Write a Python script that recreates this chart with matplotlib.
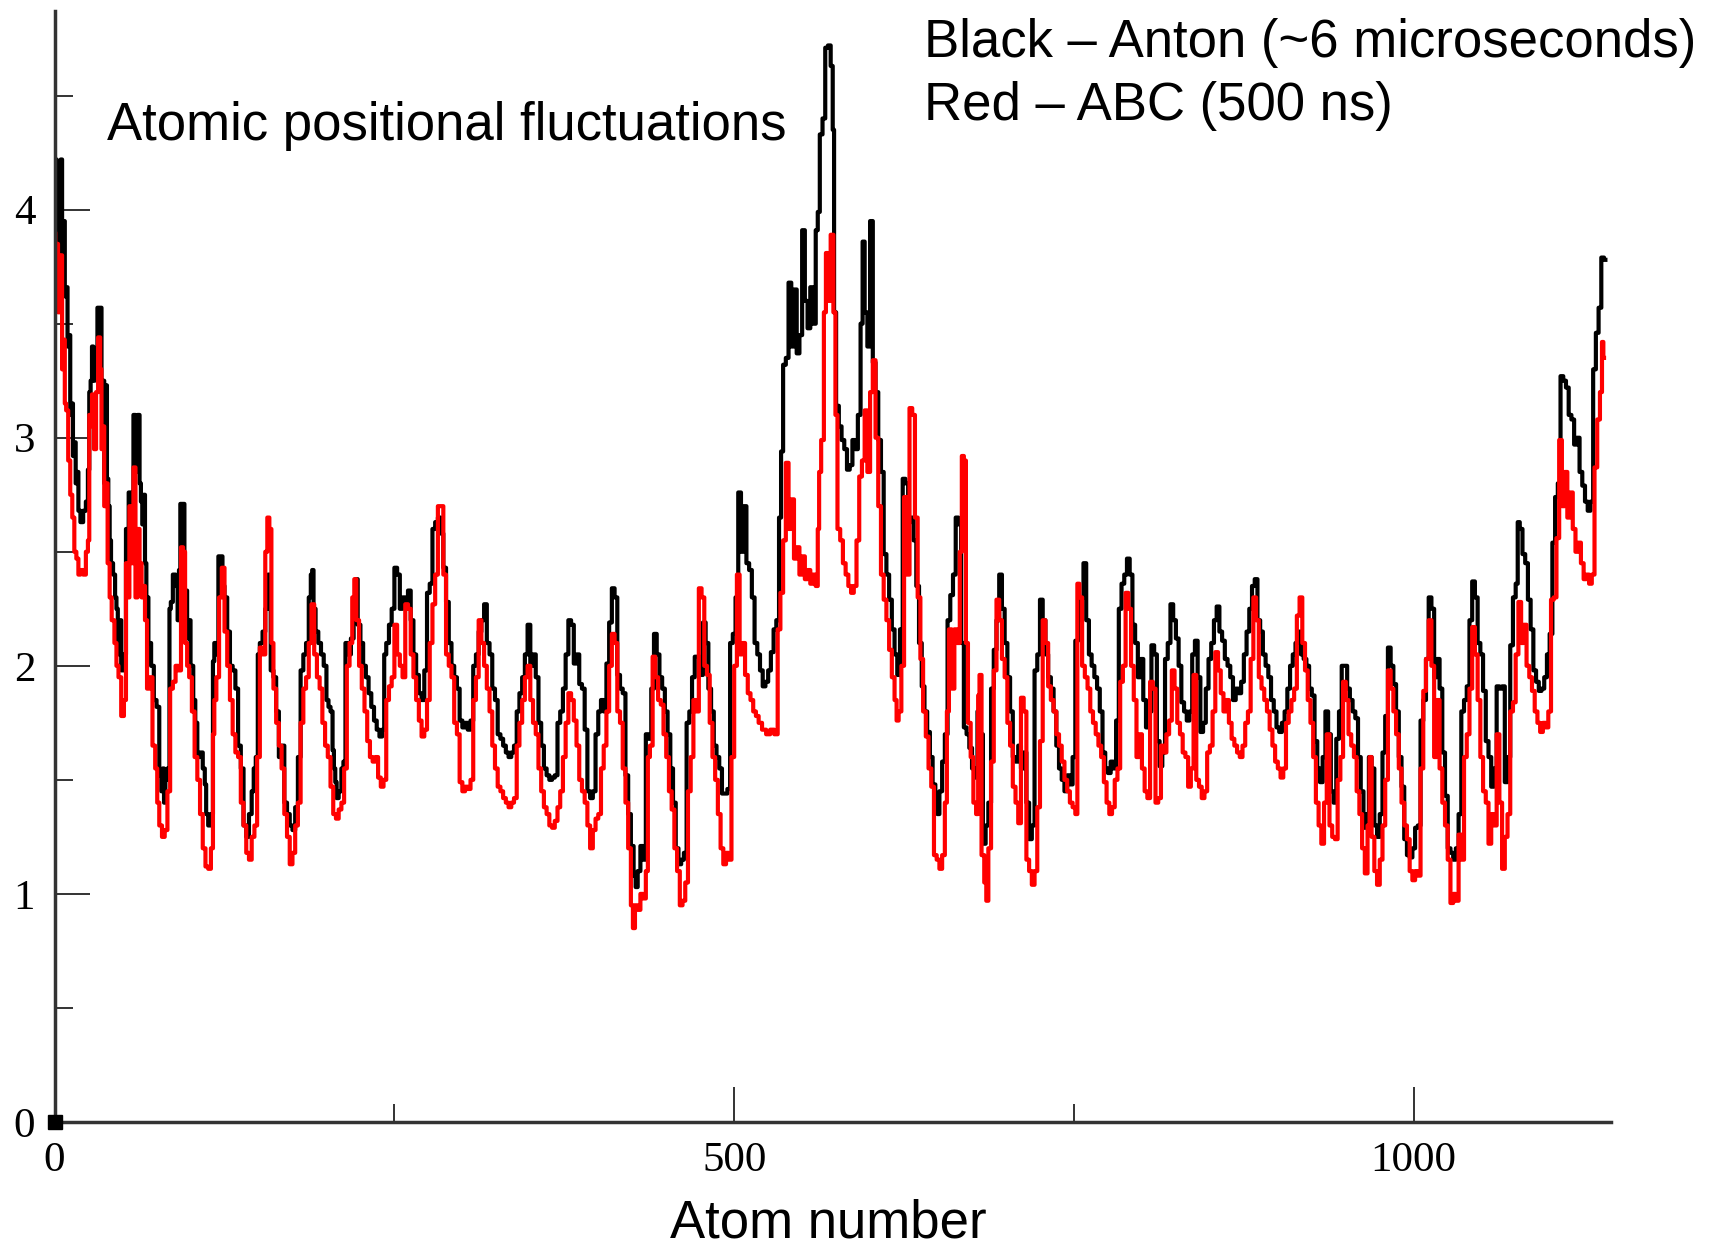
import matplotlib
matplotlib.use('Agg')
import matplotlib.pyplot as plt
from matplotlib.ticker import MultipleLocator

# Black - Anton (~6 microseconds): atom number / fluctuation
anton_atom = [
    0, 1, 2, 3, 4, 5, 6, 7, 8, 9,
    10, 11, 12, 13, 14, 15, 16, 17, 18, 20,
    22, 24, 25, 26, 27, 28, 29, 30, 31, 32,
    34, 35, 36, 37, 38, 39, 40, 41, 42, 44,
    45, 46, 47, 48, 50, 52, 53, 54, 55, 57,
    59, 60, 62, 63, 64, 65, 66, 67, 68, 70,
    72, 74, 76, 78, 79, 80, 81, 82, 84, 85,
    86, 88, 90, 91, 92, 93, 95, 96, 97, 98,
    99, 101, 103, 104, 106, 108, 110, 111, 112, 114,
    116, 117, 118, 120, 121, 123, 124, 126, 128, 130,
    132, 134, 136, 138, 140, 142, 144, 146, 147, 149,
    150, 152, 154, 156, 158, 160, 162, 164, 166, 168,
    170, 172, 174, 176, 178, 180, 182, 184, 186, 188,
    189, 190, 191, 193, 195, 197, 199, 201, 202, 204,
    205, 206, 207, 208, 210, 212, 213, 215, 217, 219,
    221, 222, 224, 226, 228, 230, 232, 234, 236, 238,
    240, 242, 243, 245, 247, 249, 251, 253, 255, 257,
    259, 261, 263, 265, 267, 269, 271, 273, 275, 277,
    279, 281, 283, 285, 287, 289, 291, 293, 295, 297,
    299, 301, 303, 305, 307, 309, 311, 313, 315, 317,
    319, 321, 323, 325, 327, 329, 331, 333, 335, 337,
    339, 341, 343, 345, 347, 349, 351, 353, 355, 357,
    359, 361, 363, 365, 367, 369, 371, 373, 375, 377,
    379, 381, 383, 385, 387, 389, 391, 393, 395, 397,
    399, 401, 403, 405, 407, 409, 411, 413, 415, 417,
    419, 421, 423, 425, 427, 428, 430, 432, 434, 436,
    438, 440, 442, 444, 446, 448, 450, 452, 454, 456,
    458, 460, 462, 464, 466, 468, 470, 472, 474, 476,
    478, 480, 482, 484, 486, 488, 490, 492, 494, 496,
    498, 500, 502, 504, 506, 508, 510, 512, 514, 516,
    518, 520, 522, 524, 526, 528, 530, 532, 534, 535,
    537, 539, 541, 543, 545, 547, 549, 551, 553, 555,
    557, 559, 561, 562, 564, 566, 568, 570, 572, 573,
    574, 576, 578, 580, 582, 584, 586, 588, 590, 592,
    594, 595, 597, 599, 601, 603, 605, 607, 609, 611,
    613, 615, 617, 619, 621, 623, 625, 627, 629, 631,
    633, 635, 637, 639, 641, 643, 645, 647, 649, 650,
    652, 654, 656, 658, 660, 662, 664, 666, 668, 670,
    672, 674, 676, 678, 680, 682, 684, 686, 688, 690,
    692, 694, 696, 698, 700, 702, 704, 706, 708, 710,
    712, 714, 716, 718, 720, 722, 724, 726, 728, 730,
    732, 734, 736, 738, 740, 742, 744, 746, 748, 750,
    752, 754, 756, 758, 760, 762, 764, 766, 768, 770,
    772, 774, 776, 778, 780, 782, 784, 786, 788, 790,
    792, 794, 796, 798, 800, 802, 804, 806, 808, 810,
    812, 814, 816, 818, 820, 822, 824, 826, 828, 830,
    832, 834, 836, 838, 840, 842, 844, 846, 848, 850,
    852, 854, 856, 858, 860, 862, 864, 866, 868, 870,
    872, 874, 876, 878, 880, 882, 884, 886, 888, 890,
    892, 894, 896, 898, 900, 902, 904, 906, 908, 910,
    912, 914, 916, 918, 920, 922, 924, 926, 928, 930,
    932, 934, 936, 938, 940, 942, 944, 946, 948, 950,
    952, 954, 956, 958, 960, 962, 964, 966, 968, 970,
    972, 974, 976, 978, 980, 982, 984, 986, 988, 990,
    992, 994, 996, 998, 1000, 1002, 1004, 1006, 1008, 1010,
    1012, 1014, 1016, 1018, 1020, 1022, 1024, 1026, 1028, 1030,
    1032, 1034, 1036, 1038, 1040, 1042, 1044, 1046, 1048, 1050,
    1052, 1054, 1056, 1058, 1060, 1062, 1064, 1066, 1068, 1070,
    1072, 1074, 1076, 1077, 1079, 1081, 1083, 1085, 1087, 1089,
    1091, 1093, 1095, 1097, 1099, 1101, 1103, 1105, 1107, 1109,
    1111, 1113, 1115, 1117, 1119, 1121, 1123, 1125, 1127, 1129,
    1131, 1133, 1135, 1137, 1139, 1141,
]
anton_rmsf = [
    3.90, 4.22, 3.85, 4.20, 3.90, 4.22, 3.80, 3.95, 3.62, 3.66,
    3.40, 3.45, 3.10, 3.15, 2.92, 2.98, 2.80, 2.85, 2.68, 2.63,
    2.68, 2.72, 2.86, 3.20, 3.25, 3.40, 3.25, 3.36, 3.30, 3.57,
    3.57, 3.20, 3.25, 2.80, 3.23, 2.82, 2.70, 2.55, 2.45, 2.40,
    2.30, 2.25, 2.05, 2.20, 1.98, 2.05, 2.60, 2.55, 2.76, 2.70,
    3.10, 2.85, 3.10, 2.80, 2.72, 2.62, 2.75, 2.45, 2.30, 2.10,
    2.00, 1.85, 1.82, 1.52, 1.45, 1.55, 1.40, 1.50, 1.55, 2.25,
    2.28, 2.40, 2.35, 2.20, 2.42, 2.71, 2.71, 2.30, 2.33, 2.12,
    2.20, 2.00, 1.85, 1.75, 1.60, 1.62, 1.55, 1.48, 1.35, 1.30,
    1.35, 2.02, 2.10, 2.05, 2.48, 2.48, 2.35, 2.30, 2.15, 2.00,
    1.98, 1.90, 1.65, 1.55, 1.30, 1.25, 1.35, 1.45, 1.55, 1.60,
    2.05, 2.10, 2.15, 2.25, 2.40, 1.98, 1.95, 1.80, 1.60, 1.65,
    1.40, 1.35, 1.30, 1.28, 1.38, 1.60, 1.98, 2.05, 2.10, 2.30,
    2.40, 2.42, 2.25, 2.15, 2.10, 2.05, 2.00, 1.85, 1.82, 1.80,
    1.63, 1.55, 1.49, 1.42, 1.45, 1.55, 1.58, 2.10, 2.05, 2.12,
    2.30, 2.38, 2.18, 2.10, 2.00, 1.95, 1.88, 1.82, 1.76, 1.72,
    1.69, 1.72, 2.05, 2.10, 2.18, 2.25, 2.43, 2.40, 2.25, 2.30,
    2.28, 2.33, 2.20, 2.05, 1.96, 1.88, 1.85, 1.98, 2.32, 2.36,
    2.60, 2.63, 2.65, 2.58, 2.43, 2.28, 2.10, 2.00, 1.95, 1.90,
    1.76, 1.73, 1.75, 1.72, 1.76, 2.00, 2.05, 2.15, 2.20, 2.27,
    2.10, 2.05, 1.90, 1.85, 1.70, 1.68, 1.65, 1.62, 1.60, 1.62,
    1.65, 1.80, 1.88, 1.95, 2.05, 2.18, 2.00, 2.05, 1.95, 1.75,
    1.65, 1.55, 1.52, 1.50, 1.51, 1.52, 1.75, 1.80, 1.90, 2.05,
    2.20, 2.18, 2.01, 2.05, 1.92, 1.90, 1.72, 1.45, 1.42, 1.45,
    1.70, 1.80, 1.85, 1.80, 2.01, 2.19, 2.34, 2.30, 1.96, 1.90,
    1.88, 1.52, 1.35, 1.21, 1.08, 1.03, 1.10, 1.21, 1.15, 1.70,
    1.68, 1.90, 2.14, 2.05, 1.95, 1.90, 1.80, 1.70, 1.55, 1.40,
    1.20, 1.13, 1.15, 1.18, 1.75, 1.80, 1.95, 2.04, 2.04, 1.96,
    2.19, 2.10, 1.90, 1.80, 1.65, 1.60, 1.55, 1.44, 1.44, 1.46,
    2.10, 2.14, 2.30, 2.76, 2.50, 2.70, 2.45, 2.42, 2.30, 2.10,
    2.05, 1.98, 1.91, 1.93, 1.98, 2.06, 2.16, 2.20, 2.65, 2.94,
    3.32, 3.35, 3.68, 3.40, 3.65, 3.37, 3.45, 3.91, 3.60, 3.48,
    3.66, 3.50, 3.91, 3.99, 4.33, 4.40, 4.71, 4.72, 4.63, 4.35,
    3.55, 3.14, 3.05, 2.99, 2.95, 2.86, 2.88, 2.99, 2.95, 3.10,
    3.50, 3.86, 3.55, 3.40, 3.95, 3.33, 3.20, 2.99, 2.85, 2.49,
    2.40, 2.29, 2.16, 2.05, 1.96, 2.16, 2.82, 2.80, 2.63, 2.65,
    2.55, 2.35, 2.10, 1.91, 1.80, 1.71, 1.60, 1.48, 1.40, 1.35,
    1.45, 1.58, 1.70, 2.20, 2.31, 2.40, 2.65, 2.62, 2.10, 1.73,
    1.70, 1.64, 1.55, 1.51, 1.80, 1.70, 1.22, 1.30, 1.40, 1.90,
    2.07, 2.20, 2.40, 2.25, 2.10, 1.95, 1.80, 1.60, 1.58, 1.65,
    1.55, 1.62, 1.40, 1.24, 1.30, 1.98, 2.05, 2.29, 2.20, 2.05,
    1.95, 1.90, 1.80, 1.65, 1.55, 1.50, 1.45, 1.52, 1.48, 1.60,
    2.11, 2.20, 2.30, 2.45, 2.20, 2.05, 2.00, 1.95, 1.90, 1.80,
    1.62, 1.55, 1.53, 1.58, 1.55, 1.76, 2.25, 2.36, 2.40, 2.47,
    2.40, 2.18, 2.10, 1.95, 2.03, 1.85, 1.73, 1.80, 2.09, 2.05,
    1.67, 1.56, 1.62, 2.03, 2.10, 2.27, 2.20, 2.12, 2.00, 1.84,
    1.80, 1.76, 1.80, 2.05, 2.11, 1.95, 1.71, 1.75, 1.90, 2.03,
    2.10, 2.20, 2.26, 2.15, 2.11, 2.03, 2.00, 1.95, 1.85, 1.90,
    1.88, 1.93, 2.05, 2.15, 2.25, 2.35, 2.38, 2.20, 2.15, 2.05,
    2.00, 1.95, 1.85, 1.80, 1.73, 1.71, 1.75, 1.80, 1.90, 2.00,
    2.05, 2.10, 2.15, 2.05, 2.03, 2.00, 1.90, 1.87, 1.67, 1.55,
    1.49, 1.60, 1.80, 1.70, 1.45, 1.40, 1.68, 1.80, 2.00, 2.00,
    1.90, 1.85, 1.80, 1.77, 1.60, 1.45, 1.29, 1.35, 1.60, 1.55,
    1.30, 1.25, 1.35, 1.62, 1.78, 2.08, 2.00, 1.92, 1.80, 1.60,
    1.47, 1.24, 1.17, 1.16, 1.20, 1.29, 1.30, 1.76, 1.85, 2.03,
    2.30, 2.25, 1.95, 2.03, 1.90, 1.62, 1.43, 1.20, 1.18, 1.15,
    1.20, 1.35, 1.80, 1.85, 1.91, 2.20, 2.37, 2.30, 2.10, 2.05,
    1.89, 1.67, 1.60, 1.47, 1.55, 1.91, 1.90, 1.91, 1.49, 1.60,
    2.09, 2.30, 2.36, 2.63, 2.60, 2.49, 2.45, 2.29, 2.16, 1.98,
    1.93, 1.89, 1.90, 1.95, 2.05, 2.14, 2.54, 2.74, 2.80, 3.27,
    3.25, 3.22, 3.10, 3.08, 2.97, 3.00, 2.85, 2.79, 2.72, 2.68,
    2.72, 3.30, 3.46, 3.57, 3.79, 3.78,
]

# Red - ABC (500 ns): atom number / fluctuation
abc_atom = [
    0, 1, 2, 3, 5, 6, 7, 8, 9, 11,
    12, 14, 15, 17, 18, 20, 22, 24, 25, 26,
    27, 28, 30, 31, 33, 34, 35, 36, 37, 38,
    40, 41, 43, 45, 46, 48, 50, 52, 53, 54,
    56, 57, 59, 60, 62, 63, 65, 66, 67, 69,
    71, 73, 75, 76, 78, 80, 82, 84, 86, 88,
    90, 92, 94, 95, 97, 98, 100, 102, 104, 106,
    108, 110, 112, 114, 116, 117, 118, 120, 122, 124,
    126, 128, 130, 132, 134, 136, 138, 140, 142, 144,
    146, 148, 150, 152, 154, 156, 157, 159, 160, 162,
    164, 166, 168, 170, 172, 174, 176, 178, 180, 182,
    184, 186, 188, 190, 192, 194, 196, 198, 200, 202,
    204, 206, 208, 210, 212, 214, 216, 218, 220, 221,
    223, 225, 227, 229, 231, 233, 235, 237, 239, 241,
    243, 245, 247, 249, 251, 253, 255, 257, 259, 261,
    263, 265, 267, 269, 271, 273, 275, 277, 279, 281,
    283, 285, 287, 289, 291, 293, 295, 297, 299, 301,
    303, 305, 307, 309, 311, 313, 315, 317, 319, 321,
    323, 325, 327, 329, 331, 333, 335, 337, 339, 341,
    343, 345, 347, 349, 351, 353, 355, 357, 359, 361,
    363, 365, 367, 369, 371, 373, 375, 377, 379, 381,
    383, 385, 387, 389, 391, 393, 395, 397, 399, 401,
    403, 405, 407, 409, 411, 413, 415, 417, 419, 421,
    423, 425, 426, 428, 430, 432, 434, 436, 437, 439,
    441, 443, 445, 447, 449, 451, 453, 455, 457, 459,
    461, 463, 465, 467, 469, 471, 473, 475, 477, 479,
    481, 483, 485, 487, 489, 491, 493, 495, 497, 499,
    501, 503, 505, 507, 509, 511, 513, 515, 517, 519,
    522, 525, 528, 531, 533, 535, 537, 539, 541, 543,
    545, 547, 549, 551, 553, 555, 557, 559, 561, 562,
    563, 565, 567, 568, 570, 572, 574, 575, 577, 579,
    581, 583, 585, 587, 589, 591, 593, 595, 597, 599,
    601, 603, 605, 607, 609, 611, 613, 615, 617, 619,
    620, 622, 624, 626, 628, 630, 632, 634, 636, 638,
    640, 642, 644, 646, 648, 650, 652, 654, 656, 657,
    659, 661, 663, 665, 667, 668, 670, 671, 673, 675,
    677, 679, 680, 681, 683, 685, 686, 688, 690, 692,
    694, 696, 698, 700, 702, 704, 706, 708, 710, 712,
    714, 716, 718, 720, 722, 724, 726, 728, 730, 732,
    734, 736, 738, 740, 742, 744, 746, 748, 750, 752,
    753, 755, 757, 759, 761, 763, 765, 767, 769, 771,
    773, 775, 777, 779, 781, 783, 785, 787, 789, 791,
    793, 795, 797, 799, 801, 803, 805, 807, 809, 811,
    813, 815, 817, 819, 821, 823, 825, 827, 829, 831,
    833, 835, 837, 839, 841, 843, 845, 847, 849, 851,
    853, 855, 857, 859, 861, 863, 865, 867, 869, 871,
    873, 875, 877, 879, 881, 883, 885, 887, 889, 891,
    893, 895, 897, 899, 901, 903, 905, 907, 909, 911,
    913, 915, 917, 919, 921, 923, 925, 927, 929, 931,
    933, 935, 937, 939, 941, 943, 945, 947, 949, 951,
    953, 955, 957, 959, 961, 963, 965, 967, 968, 970,
    972, 974, 976, 978, 980, 982, 984, 986, 988, 990,
    992, 994, 996, 998, 1000, 1002, 1004, 1006, 1008, 1010,
    1012, 1014, 1016, 1018, 1020, 1022, 1024, 1026, 1028, 1030,
    1032, 1034, 1036, 1038, 1040, 1042, 1044, 1046, 1048, 1050,
    1052, 1054, 1056, 1058, 1060, 1062, 1064, 1066, 1068, 1070,
    1072, 1074, 1076, 1078, 1080, 1082, 1084, 1086, 1088, 1090,
    1092, 1094, 1096, 1098, 1100, 1102, 1104, 1106, 1108, 1110,
    1112, 1114, 1116, 1118, 1120, 1122, 1124, 1126, 1128, 1130,
    1132, 1134, 1136, 1138, 1139, 1140,
]
abc_rmsf = [
    3.90, 3.60, 3.85, 3.55, 3.80, 3.30, 3.43, 3.15, 3.12, 2.90,
    2.75, 2.65, 2.50, 2.47, 2.40, 2.42, 2.40, 2.50, 2.55, 3.10,
    3.05, 3.19, 2.95, 3.20, 3.44, 3.30, 2.95, 3.05, 2.70, 2.80,
    2.45, 2.30, 2.20, 2.10, 2.00, 1.95, 1.78, 1.85, 2.45, 2.30,
    2.70, 2.45, 2.87, 2.30, 2.60, 2.45, 2.30, 2.35, 2.20, 1.90,
    1.95, 1.65, 1.55, 1.40, 1.30, 1.25, 1.28, 1.45, 1.90, 1.93,
    2.00, 1.98, 2.52, 2.50, 2.10, 2.00, 1.95, 1.80, 1.60, 1.50,
    1.35, 1.20, 1.12, 1.11, 1.20, 1.70, 1.85, 1.95, 2.30, 2.43,
    2.15, 2.00, 1.85, 1.70, 1.62, 1.60, 1.40, 1.30, 1.18, 1.15,
    1.25, 1.30, 1.60, 2.08, 2.05, 2.50, 2.65, 2.60, 2.10, 1.90,
    1.75, 1.65, 1.55, 1.35, 1.25, 1.13, 1.18, 1.30, 1.40, 1.75,
    1.90, 1.95, 2.10, 2.27, 2.05, 1.95, 1.90, 1.75, 1.65, 1.60,
    1.47, 1.35, 1.33, 1.37, 1.40, 1.55, 2.00, 2.10, 2.30, 2.38,
    2.20, 2.00, 1.90, 1.80, 1.67, 1.60, 1.58, 1.60, 1.51, 1.47,
    1.50, 1.85, 1.91, 1.95, 2.18, 2.05, 2.00, 1.95, 2.27, 2.25,
    2.05, 1.95, 1.85, 1.76, 1.69, 1.72, 1.85, 2.10, 2.27, 2.40,
    2.70, 2.70, 2.40, 2.05, 2.00, 1.95, 1.75, 1.70, 1.49, 1.45,
    1.47, 1.46, 1.50, 1.85, 1.95, 2.20, 2.10, 2.00, 1.90, 1.80,
    1.65, 1.55, 1.47, 1.45, 1.42, 1.40, 1.38, 1.40, 1.42, 1.65,
    1.75, 1.85, 1.95, 2.00, 1.85, 1.75, 1.70, 1.55, 1.45, 1.38,
    1.35, 1.30, 1.29, 1.32, 1.38, 1.45, 1.60, 1.75, 1.88, 1.85,
    1.76, 1.65, 1.50, 1.45, 1.40, 1.30, 1.20, 1.28, 1.33, 1.35,
    1.55, 1.65, 1.80, 2.00, 2.14, 2.10, 1.80, 1.75, 1.55, 1.40,
    1.20, 0.95, 0.85, 0.95, 0.93, 1.00, 0.98, 1.10, 1.60, 1.65,
    2.04, 1.95, 1.85, 1.83, 1.70, 1.60, 1.45, 1.37, 1.20, 1.10,
    0.95, 0.97, 1.05, 1.45, 1.60, 1.85, 1.80, 2.34, 2.30, 2.00,
    1.96, 1.75, 1.60, 1.50, 1.35, 1.20, 1.13, 1.18, 1.15, 1.60,
    2.00, 2.40, 2.05, 2.10, 1.96, 1.88, 1.85, 1.80, 1.78, 1.75,
    1.72, 1.70, 1.72, 1.70, 2.16, 2.32, 2.55, 2.89, 2.60, 2.73,
    2.47, 2.52, 2.40, 2.48, 2.38, 2.42, 2.36, 2.40, 2.35, 2.60,
    2.85, 2.99, 3.55, 3.81, 3.60, 3.89, 3.55, 3.10, 2.60, 2.55,
    2.45, 2.40, 2.35, 2.32, 2.35, 2.55, 2.83, 2.90, 3.12, 2.85,
    3.20, 3.34, 3.00, 2.70, 2.40, 2.29, 2.20, 2.07, 1.95, 1.85,
    1.76, 1.80, 2.00, 2.74, 2.40, 3.13, 3.10, 2.65, 2.30, 2.03,
    1.80, 1.69, 1.55, 1.47, 1.17, 1.15, 1.11, 1.17, 1.40, 1.80,
    2.16, 1.90, 2.16, 2.10, 2.50, 2.92, 2.90, 2.10, 1.75, 1.60,
    1.40, 1.35, 1.87, 1.96, 1.17, 1.05, 0.97, 1.20, 1.58, 1.98,
    2.29, 2.20, 2.03, 1.95, 1.75, 1.65, 1.47, 1.40, 1.31, 1.86,
    1.80, 1.15, 1.10, 1.04, 1.10, 1.38, 1.67, 2.20, 2.10, 1.91,
    1.85, 1.80, 1.70, 1.65, 1.58, 1.50, 1.45, 1.40, 1.38, 1.35,
    2.36, 2.30, 2.00, 1.95, 1.90, 1.80, 1.75, 1.70, 1.65, 1.60,
    1.49, 1.40, 1.35, 1.38, 1.50, 1.55, 1.93, 2.00, 2.32, 2.25,
    2.00, 1.85, 1.60, 1.70, 1.55, 1.45, 1.42, 1.93, 1.90, 1.40,
    1.42, 1.65, 1.62, 1.70, 1.76, 1.98, 1.90, 1.75, 1.70, 1.62,
    1.60, 1.47, 1.55, 1.96, 1.50, 1.47, 1.42, 1.45, 1.62, 1.65,
    1.80, 2.06, 1.98, 1.88, 1.80, 1.85, 1.75, 1.68, 1.65, 1.62,
    1.60, 1.65, 1.75, 1.80, 2.03, 2.30, 2.20, 1.95, 1.90, 1.85,
    1.80, 1.72, 1.65, 1.58, 1.55, 1.51, 1.55, 1.75, 1.80, 1.85,
    1.90, 2.22, 2.30, 2.10, 1.98, 1.85, 1.75, 1.60, 1.40, 1.30,
    1.22, 1.40, 1.70, 1.30, 1.25, 1.24, 1.50, 1.60, 1.93, 1.85,
    1.70, 1.65, 1.60, 1.45, 1.35, 1.20, 1.09, 1.30, 1.60, 1.25,
    1.10, 1.04, 1.15, 1.30, 1.50, 1.98, 1.90, 1.80, 1.70, 1.55,
    1.40, 1.30, 1.24, 1.10, 1.06, 1.10, 1.08, 1.55, 1.89, 2.03,
    2.20, 2.00, 1.60, 1.85, 1.55, 1.40, 1.30, 1.15, 0.96, 1.00,
    0.97, 1.26, 1.15, 1.60, 1.70, 1.90, 2.17, 2.05, 1.85, 1.60,
    1.45, 1.40, 1.22, 1.35, 1.30, 1.70, 1.40, 1.11, 1.25, 1.35,
    1.80, 1.84, 2.05, 2.28, 2.10, 2.18, 2.00, 1.95, 1.89, 1.80,
    1.75, 1.71, 1.75, 1.73, 1.80, 2.29, 2.30, 2.56, 2.99, 2.70,
    2.85, 2.65, 2.76, 2.60, 2.50, 2.54, 2.45, 2.38, 2.40, 2.36,
    2.40, 2.87, 3.08, 3.20, 3.42, 3.35,
]

assert len(anton_atom) == len(anton_rmsf)
assert len(abc_atom) == len(abc_rmsf)

fig = plt.figure(figsize=(17.12, 12.49), dpi=100)
ax = fig.add_axes([0.0319, 0.1017, 0.9090, 0.8893])

ax.plot(anton_atom, anton_rmsf, color='black', lw=3.0, drawstyle='steps-mid')
ax.plot(abc_atom, abc_rmsf, color='red', lw=3.0, drawstyle='steps-mid')

ax.set_xlim(0, 1145)
ax.set_ylim(0, 4.87)
ax.xaxis.set_major_locator(MultipleLocator(500))
ax.xaxis.set_minor_locator(MultipleLocator(250))
ax.yaxis.set_major_locator(MultipleLocator(1))
ax.yaxis.set_minor_locator(MultipleLocator(0.5))

for s in ['top', 'right']:
    ax.spines[s].set_visible(False)
for s in ['left', 'bottom']:
    ax.spines[s].set_linewidth(2.5)
    ax.spines[s].set_color('#333333')

ax.tick_params(which='major', direction='in', length=25, width=1.4, color='#333333',
               pad=14, labelsize=31)
ax.tick_params(which='minor', direction='in', length=13, width=1.4, color='#333333')
for lab in ax.get_xticklabels() + ax.get_yticklabels():
    lab.set_fontfamily('Liberation Serif')

# small square marker at the origin
ax.plot([0], [0], marker='s', ms=10, color='black', clip_on=False, zorder=5)

fig.text(0.0625, 0.888, 'Atomic positional fluctuations', fontsize=38,
         family='Liberation Sans', va='baseline')
fig.text(0.540, 0.954, 'Black \u2013 Anton (~6 microseconds)', fontsize=38,
         family='Liberation Sans', va='baseline')
fig.text(0.540, 0.904, 'Red \u2013 ABC (500 ns)', fontsize=38,
         family='Liberation Sans', va='baseline')
fig.text(0.4836, 0.009, 'Atom number', fontsize=38, family='Liberation Sans',
         ha='center', va='baseline')

fig.savefig('out.png', dpi=100)
